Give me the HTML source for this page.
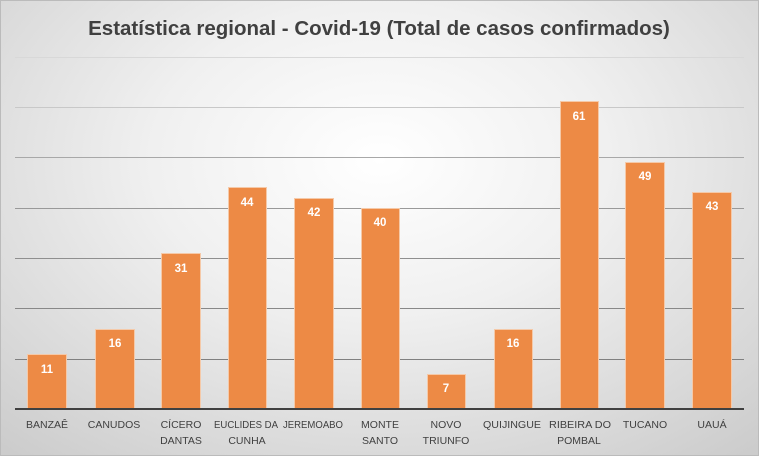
<!DOCTYPE html>
<html><head><meta charset="utf-8"><style>
body{margin:0;width:759px;height:456px;overflow:hidden;font-family:"Liberation Sans",sans-serif}
#c{position:absolute;left:0;top:0;width:757px;height:454px;border:1px solid #bbb;background:radial-gradient(ellipse 75% 85% at 50% 35%,#ffffff 0%,#f0f0f0 40%,#cccccc 100%)}
</style></head><body><div id="c">
<svg width="759" height="456" style="position:absolute;left:-1px;top:-1px" font-family="Liberation Sans, sans-serif">
<text x="379" y="35" text-anchor="middle" font-size="20.5" font-weight="bold" fill="#404040">Estatística regional - Covid-19 (Total de casos confirmados)</text>
<g stroke-width="1">
<line x1="15" x2="744" y1="57.5" y2="57.5" stroke="#d8d8d8"/>
<line x1="15" x2="744" y1="107.5" y2="107.5" stroke="#c8c8c8"/>
<line x1="15" x2="744" y1="157.5" y2="157.5" stroke="#a8a8a8"/>
<line x1="15" x2="744" y1="208.5" y2="208.5" stroke="#999"/>
<line x1="15" x2="744" y1="258.5" y2="258.5" stroke="#8f8f8f"/>
<line x1="15" x2="744" y1="308.5" y2="308.5" stroke="#888"/>
<line x1="15" x2="744" y1="359.5" y2="359.5" stroke="#808080"/>
</g>
<g fill="#ED8A45" stroke="#f5c9a8" stroke-width="1">
<rect x="27.5" y="354.5" width="39" height="55"/>
<rect x="95.5" y="329.5" width="39" height="80"/>
<rect x="161.5" y="253.5" width="39" height="156"/>
<rect x="228.5" y="187.5" width="38" height="222"/>
<rect x="294.5" y="198.5" width="39" height="211"/>
<rect x="361.5" y="208.5" width="38" height="201"/>
<rect x="427.5" y="374.5" width="38" height="35"/>
<rect x="494.5" y="329.5" width="38" height="80"/>
<rect x="560.5" y="101.5" width="38" height="308"/>
<rect x="625.5" y="162.5" width="39" height="247"/>
<rect x="692.5" y="192.5" width="39" height="217"/>
</g>
<line x1="15" x2="744" y1="409" y2="409" stroke="#404040" stroke-width="2"/>
<g fill="#fff" font-size="11.5" font-weight="bold" text-anchor="middle">
<text x="47" y="373">11</text><text x="115" y="347">16</text><text x="181" y="272">31</text>
<text x="247" y="206">44</text><text x="314" y="216">42</text><text x="380" y="226">40</text>
<text x="446" y="392">7</text><text x="513" y="347">16</text><text x="579" y="120">61</text>
<text x="645" y="180">49</text><text x="712" y="210">43</text>
</g>
<g fill="#404040" font-size="10.5" text-anchor="middle">
<text x="47" y="428">BANZAÊ</text><text x="114" y="428">CANUDOS</text>
<text x="181" y="428">CÍCERO</text><text x="181" y="444">DANTAS</text>
<text x="246" y="428" textLength="64" lengthAdjust="spacingAndGlyphs">EUCLIDES DA</text><text x="247" y="444">CUNHA</text>
<text x="313" y="428" textLength="60" lengthAdjust="spacingAndGlyphs">JEREMOABO</text>
<text x="380" y="428">MONTE</text><text x="380" y="444">SANTO</text>
<text x="446" y="428">NOVO</text><text x="446" y="444">TRIUNFO</text>
<text x="512" y="428" textLength="58" lengthAdjust="spacingAndGlyphs">QUIJINGUE</text>
<text x="580" y="428" textLength="62" lengthAdjust="spacingAndGlyphs">RIBEIRA DO</text><text x="579" y="444">POMBAL</text>
<text x="645" y="428">TUCANO</text><text x="712" y="428">UAUÁ</text>
</g>
</svg></div></body></html>
